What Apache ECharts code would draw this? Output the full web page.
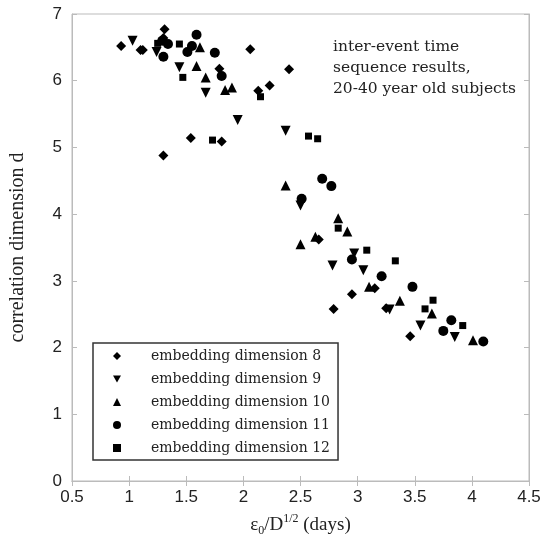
<!DOCTYPE html>
<html>
<head>
<meta charset="utf-8">
<script src="https://cdn.jsdelivr.net/npm/echarts@6/dist/echarts.min.js"></script>
<style>
  html, body { margin: 0; padding: 0; background: #fff; }
  #main { width: 554px; height: 542px; }
</style>
</head>
<body>
<div id="main"></div>
<script>
// data: [eps0/D^(1/2), correlation dimension]
var dim8 = [[0.93, 6.52], [1.10, 6.46], [1.12, 6.46], [1.31, 6.77], [1.30, 6.64], [2.06, 6.47],
  [1.79, 6.18], [2.13, 5.85], [2.23, 5.93], [2.40, 6.17], [1.54, 5.14], [1.81, 5.09], [1.30, 4.88],
  [2.66, 3.62], [3.15, 2.89], [2.95, 2.80], [2.79, 2.58], [3.25, 2.59], [3.46, 2.17]];
var dim9 = [[1.03, 6.60], [1.24, 6.43], [1.44, 6.20], [1.67, 5.82], [1.95, 5.41], [2.37, 5.25],
  [2.50, 4.13], [2.97, 3.41], [2.78, 3.23], [3.05, 3.16], [3.28, 2.57], [3.55, 2.33], [3.85, 2.16]];
var dim10 = [[1.62, 6.50], [1.59, 6.22], [1.67, 6.05], [1.84, 5.86], [1.90, 5.90], [2.37, 4.43],
  [2.83, 3.94], [2.91, 3.74], [2.50, 3.55], [2.63, 3.66], [3.10, 2.91], [3.37, 2.70], [3.65, 2.51], [4.01, 2.11]];
var dim11 = [[1.29, 6.60], [1.34, 6.55], [1.30, 6.36], [1.59, 6.69], [1.55, 6.52], [1.51, 6.43],
  [1.75, 6.42], [1.81, 6.07], [2.69, 4.53], [2.77, 4.42], [2.51, 4.23], [2.95, 3.32], [3.21, 3.07],
  [3.48, 2.91], [3.82, 2.41], [3.75, 2.25], [4.10, 2.09]];
var dim12 = [[1.25, 6.56], [1.44, 6.55], [1.47, 6.05], [2.15, 5.76], [1.73, 5.11], [2.57, 5.17],
  [2.65, 5.13], [2.83, 3.79], [3.08, 3.46], [3.33, 3.30], [3.66, 2.71], [3.59, 2.58], [3.92, 2.33]];

var names = ['embedding dimension 8', 'embedding dimension 9', 'embedding dimension 10',
  'embedding dimension 11', 'embedding dimension 12'];
var note = 'inter-event time\nsequence results,\n20-40 year old subjects';

var serif = 'DejaVu Serif';
var downTri = 'path://M0,0L10,0L5,9Z';

function dots(name, data, symbol, size) {
  return {
    name: name,
    type: 'scatter',
    data: data,
    symbol: symbol,
    symbolSize: size,
    itemStyle: { color: '#000', opacity: 1 },
    emphasis: { disabled: true }
  };
}

var chart = echarts.init(document.getElementById('main'));

var tickStyle = { inside: true, length: 5, lineStyle: { color: '#bbb' } };
var hiddenAxis = { show: false };

chart.setOption({
  animation: false,
  title: {
    text: note,
    left: 333,
    top: 36,
    padding: 0,
    textStyle: { fontFamily: serif, fontSize: 15.5, fontWeight: 'normal', color: '#222', lineHeight: 21 }
  },
  legend: {
    orient: 'vertical',
    left: 93,
    top: 343,
    data: names,
    itemWidth: 8,
    itemHeight: 8,
    itemGap: 5,
    padding: [4, 8, 3, 20],
    borderColor: '#333',
    borderWidth: 1.5,
    textStyle: { fontFamily: serif, fontSize: 14, color: '#222', lineHeight: 18, padding: [0, 0, 0, 25] }
  },
  grid: {
    left: 66, right: 25, top: 14, bottom: 43,
    show: true, borderColor: '#bbb', borderWidth: 1
  },
  xAxis: [{
    type: 'value', min: 0.5, max: 4.5, interval: 0.5,
    splitLine: hiddenAxis,
    axisLine: { lineStyle: { color: '#bbb' } },
    axisTick: tickStyle,
    axisLabel: { fontFamily: 'Liberation Sans', fontSize: 17, color: '#222', margin: 8 },
    name: '{t|ε}{sub|0}{t|/D}{sup|1/2}{t| (days)}',
    nameLocation: 'middle',
    nameGap: 32,
    nameTextStyle: {
      rich: {
        t: { fontFamily: 'Liberation Serif', fontSize: 19, color: '#222', lineHeight: 24 },
        sub: { fontFamily: 'Liberation Serif', fontSize: 12, color: '#222', lineHeight: 12, verticalAlign: 'bottom' },
        sup: { fontFamily: 'Liberation Serif', fontSize: 12, color: '#222', lineHeight: 12, verticalAlign: 'top' }
      }
    }
  }, {
    type: 'value', position: 'top', min: 0.5, max: 4.5, interval: 0.5,
    splitLine: hiddenAxis, axisLabel: hiddenAxis,
    axisLine: { lineStyle: { color: '#bbb' } },
    axisTick: tickStyle
  }],
  yAxis: [{
    type: 'value', min: 0, max: 7, interval: 1,
    splitLine: hiddenAxis,
    axisLine: { show: true, lineStyle: { color: '#bbb' } },
    axisTick: tickStyle,
    axisLabel: { fontFamily: 'Liberation Sans', fontSize: 17, color: '#222', margin: 10 },
    name: 'correlation dimension d',
    nameLocation: 'middle',
    nameGap: 44,
    nameTextStyle: { fontFamily: 'Liberation Serif', fontSize: 20, color: '#222' }
  }, {
    type: 'value', position: 'right', min: 0, max: 7, interval: 1,
    splitLine: hiddenAxis, axisLabel: hiddenAxis,
    axisLine: { show: true, lineStyle: { color: '#bbb' } },
    axisTick: tickStyle
  }],
  series: [
    dots(names[0], dim8, 'diamond', 10),
    dots(names[1], dim9, downTri, 10),
    dots(names[2], dim10, 'triangle', 10),
    dots(names[3], dim11, 'circle', 10),
    dots(names[4], dim12, 'rect', 7)
  ]
});
</script>
</body>
</html>
